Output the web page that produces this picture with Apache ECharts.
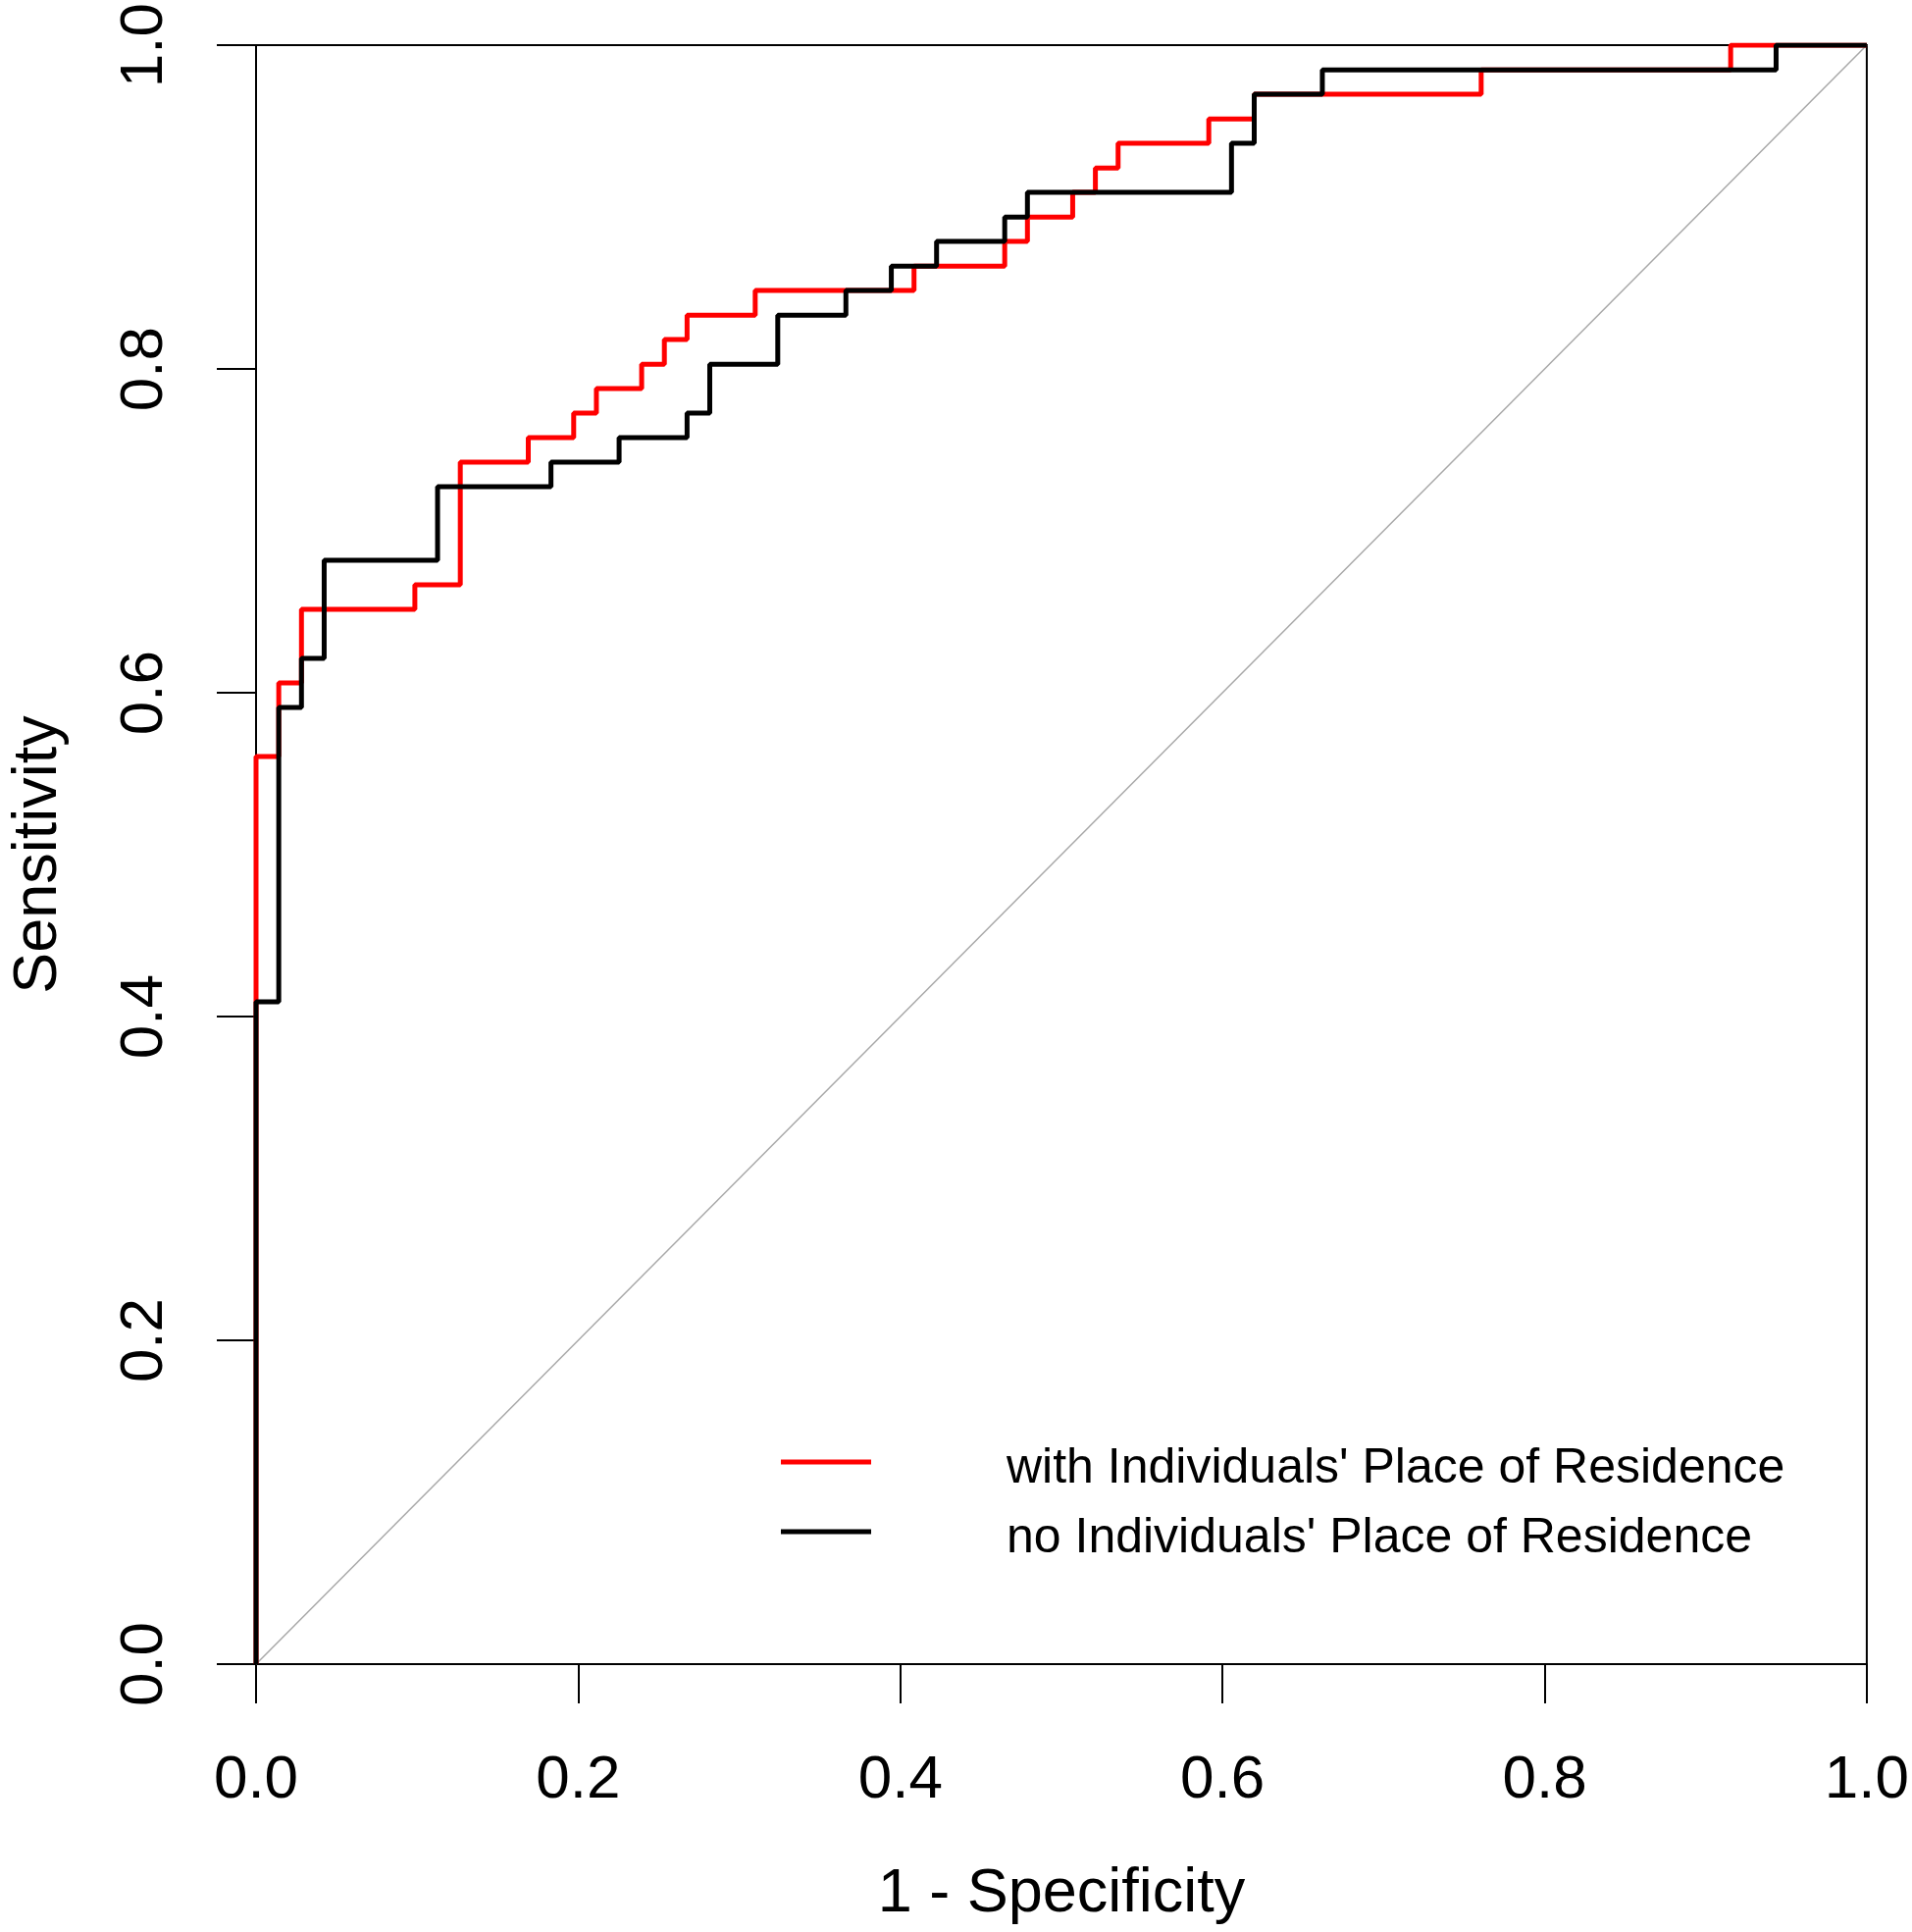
<!DOCTYPE html>
<html lang="en">
<head>
  <meta charset="UTF-8">
  <title>ROC</title>
  <script src="https://cdn.jsdelivr.net/npm/echarts@6/dist/echarts.min.js"></script>
  <style>
    html, body { margin: 0; padding: 0; background: #fff; }
  </style>
</head>
<body>
  <div id="chart" style="width: 1949px; height: 1969px;"></div>

  <script>
    // 1 - specificity / sensitivity corner points of each step curve
    let withFpr = [0, 0, 0.0141, 0.0282, 0.0986, 0.1268, 0.1690, 0.1972, 0.2113, 0.2394, 0.2535, 0.2676,
      0.3099, 0.4085, 0.4648, 0.4789, 0.5070, 0.5211, 0.5352, 0.5915, 0.6197, 0.7606, 0.9155, 1]
    let withTpr = [0, 0.5606, 0.6061, 0.6515, 0.6667, 0.7424, 0.7576, 0.7727, 0.7879, 0.8030, 0.8182, 0.8333,
      0.8485, 0.8636, 0.8788, 0.8939, 0.9091, 0.9242, 0.9394, 0.9545, 0.9697, 0.9848, 1, 1]

    let noFpr = [0, 0, 0.0141, 0.0282, 0.0423, 0.1127, 0.1831, 0.2254, 0.2676, 0.2817, 0.3239, 0.3662,
      0.3944, 0.4225, 0.4648, 0.4789, 0.6056, 0.6197, 0.6620, 0.9437, 1]
    let noTpr = [0, 0.4091, 0.5909, 0.6212, 0.6818, 0.7273, 0.7424, 0.7576, 0.7727, 0.8030, 0.8333, 0.8485,
      0.8636, 0.8788, 0.8939, 0.9091, 0.9394, 0.9697, 0.9848, 1, 1]

    let diagX = [0, 1]
    let diagY = [0, 1]

    let seriesNames = ["with Individuals' Place of Residence", "no Individuals' Place of Residence"]

    const zip = (xs, ys) => xs.map((x, i) => [x, ys[i]])
    const font = 'Liberation Sans, Arial, sans-serif'

    let myChart = echarts.init(document.getElementById('chart'), null, { renderer: 'canvas' })

    let options = {
      animation: false,
      backgroundColor: '#fff',
      textStyle: { fontFamily: font },
      grid: {
        left: 255, top: 46, width: 1651, height: 1650,
        show: true, borderColor: '#000', borderWidth: 2, backgroundColor: 'transparent'
      },
      legend: {
        orient: 'vertical',
        left: 791, top: 1467,
        // line sits in the top of the icon box so the text hangs a bit below it
        itemWidth: 92, itemHeight: 19, itemGap: 21,
        icon: 'path://M0,0 L92,0 L92,5 L0,5 Z M0,19 L0.01,19',
        data: seriesNames,
        textStyle: { fontFamily: font, fontSize: 50, lineHeight: 50, color: '#000', padding: [0, 0, 0, 133] }
      },
      xAxis: {
        type: 'value', min: 0, max: 1, interval: 0.2,
        name: '1 - Specificity', nameLocation: 'middle', nameGap: 203,
        nameTextStyle: { fontFamily: font, fontSize: 63, color: '#000' },
        axisLine: { show: true, onZero: false, lineStyle: { color: '#000', width: 2 } },
        axisTick: { show: true, length: 40, lineStyle: { color: '#000', width: 2 } },
        axisLabel: { margin: 88, fontSize: 62, color: '#000', fontFamily: font, formatter: v => v.toFixed(1) },
        splitLine: { show: false }
      },
      yAxis: {
        type: 'value', min: 0, max: 1, interval: 0.2,
        name: 'Sensitivity', nameLocation: 'middle', nameGap: 190, nameRotate: 90,
        nameTextStyle: { fontFamily: font, fontSize: 63, color: '#000' },
        axisLine: { show: true, onZero: false, lineStyle: { color: '#000', width: 2 } },
        axisTick: { show: true, length: 40, lineStyle: { color: '#000', width: 2 } },
        axisLabel: { margin: 82, rotate: 90, fontSize: 62, color: '#000', fontFamily: font, formatter: v => v.toFixed(1) },
        splitLine: { show: false }
      },
      series: [
        {
          name: 'diag', type: 'line', data: zip(diagX, diagY),
          symbol: 'none', silent: true, z: 1,
          lineStyle: { color: '#a8a8a8', width: 1.5 }
        },
        {
          name: seriesNames[0], type: 'line', step: 'end', data: zip(withFpr, withTpr),
          symbol: 'none', z: 2, color: '#ff0000',
          lineStyle: { color: '#ff0000', width: 5 }
        },
        {
          name: seriesNames[1], type: 'line', step: 'end', data: zip(noFpr, noTpr),
          symbol: 'none', z: 3, color: '#000000',
          lineStyle: { color: '#000000', width: 5 }
        }
      ]
    }

    myChart.setOption(options)
  </script>
</body>
</html>
